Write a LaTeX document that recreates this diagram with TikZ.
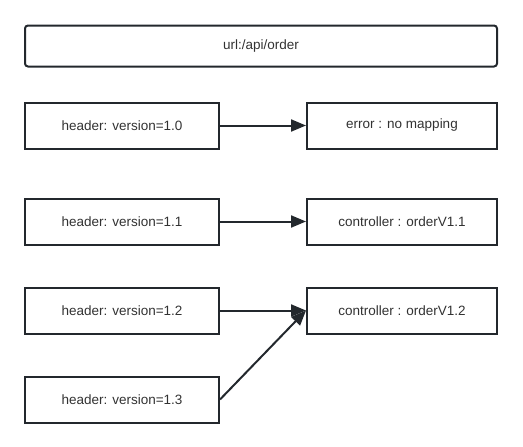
\documentclass[tikz,border=0pt]{standalone}
\usepackage{fontspec}
\setmainfont{Liberation Sans}
\usepackage{xcolor}
\definecolor{boxline}{RGB}{35, 40, 45}
\definecolor{boxtext}{RGB}{50, 50, 50}
\usepackage{tikz}
\usetikzlibrary{
    arrows.meta,
    positioning
}
\tikzset{
    box/.style = {
        draw=boxline,
        line width=2pt,
        minimum height=46pt,
        text=boxtext,
        font=\fontsize{13.5}{16}\selectfont,
        inner sep=0pt
    },
    arrow/.style = {
        draw=boxline,
        line width=2pt,
        -{Triangle[length=15pt, width=12pt]}
    }
}

\begin{document}
\begin{tikzpicture}[x=1pt, y=-1pt]

\useasboundingbox (0,0) rectangle (523,447);

% Adresse oben
\node[box, rounded corners=3pt, minimum width=472pt, minimum height=41pt]
    (url) at (261,46) {url:/api/order};

% Header-Versionen links
\node[box, minimum width=194pt] (v10) at (122,125.5) {header: version=1.0};
\node[box, minimum width=194pt] (v11) at (122,221.5) {header: version=1.1};
\node[box, minimum width=194pt] (v12) at (122,310.5) {header: version=1.2};
\node[box, minimum width=194pt] (v13) at (122,399.5) {header: version=1.3};

% Ziele rechts
\node[box, minimum width=190pt] (err) at (402,125.5) {error : no mapping};
\node[box, minimum width=190pt] (c11) at (402,221.5) {controller : orderV1.1};
\node[box, minimum width=190pt] (c12) at (402,310.5) {controller : orderV1.2};

% Pfeile
\draw[arrow] (v10) -- (err);
\draw[arrow] (v11) -- (c11);
\draw[arrow] (v12) -- (c12);
\draw[arrow] (v13.east) -- (c12.west);

\end{tikzpicture}
\end{document}
